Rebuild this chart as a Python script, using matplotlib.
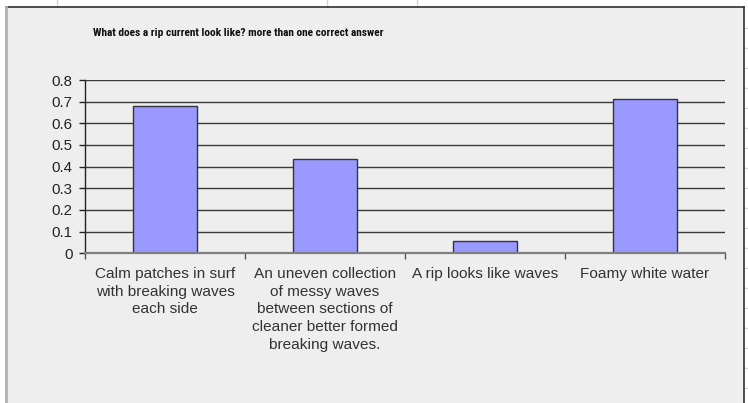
import matplotlib
matplotlib.use("Agg")
import matplotlib.pyplot as plt
from matplotlib.patches import Rectangle
from matplotlib.lines import Line2D

categories = [
    "Calm patches in surf\nwith breaking waves\neach side",
    "An uneven collection\nof messy waves\nbetween sections of\ncleaner better formed\nbreaking waves.",
    "A rip looks like waves",
    "Foamy white water",
]
values = [0.68, 0.435, 0.055, 0.71]
y_ticks = [0, 0.1, 0.2, 0.3, 0.4, 0.5, 0.6, 0.7, 0.8]
y_tick_labels = ["0", "0.1", "0.2", "0.3", "0.4", "0.5", "0.6", "0.7", "0.8"]
title = "What does a rip current look like? more than one correct answer"

W, H = 748, 403
fig = plt.figure(figsize=(W / 100, H / 100), dpi=100, facecolor="white")

def fx(px):
    return px / W

def fy(py):
    return 1 - py / H

# worksheet cell lines around the chart object
for x in (57, 327, 417):
    fig.add_artist(Line2D([fx(x), fx(x)], [fy(0), fy(7)], color="#d4d4d4", lw=1))
for y in range(28, 403, 20):
    fig.add_artist(Line2D([fx(745), fx(748)], [fy(y), fy(y)], color="#d4d4d4", lw=1))

# chart area
fig.add_artist(Rectangle((fx(6), fy(403)), fx(744) - fx(6), fy(7) - fy(403),
                         facecolor="#eeeeee", edgecolor="none", zorder=0))
fig.add_artist(Line2D([fx(6), fx(744)], [fy(7), fy(7)], color="#303030", lw=1.2))
fig.add_artist(Line2D([fx(744), fx(744)], [fy(7), fy(403)], color="#303030", lw=1.2))
fig.add_artist(Line2D([fx(6), fx(6)], [fy(7), fy(403)], color="#b0b0b0", lw=2))

fig.text(fx(93), fy(33), title, fontsize=8.2, fontweight="bold",
         family=["Roboto Condensed", "DejaVu Sans"], fontstretch="condensed",
         color="#111111", va="center", ha="left")

ax = fig.add_axes([fx(85), fy(253.3), fx(725) - fx(85), fy(80) - fy(253.3)])
ax.set_facecolor("none")

x = list(range(len(values)))
ax.set_xlim(-0.5, len(values) - 0.5)
ax.set_ylim(0, 0.8)

for t in y_ticks[1:]:
    ax.axhline(t, color="#3a3a3a", lw=1.0, zorder=1)

ax.bar(x, values, width=0.405, color="#9999ff", edgecolor="#333344",
       linewidth=1.0, zorder=3)

ax.set_yticks(y_ticks)
ax.set_yticklabels(y_tick_labels, family="Liberation Sans", fontsize=10.8, color="#222222")
ax.tick_params(axis="y", direction="out", length=4, width=1, color="#222222", pad=5)

ax.set_xticks(x)
ax.set_xticklabels(categories, family="Liberation Sans", fontsize=11.1,
                   color="#333333", linespacing=1.33, va="top")
ax.tick_params(axis="x", which="major", length=0, pad=10)
ax.set_xticks([i - 0.5 for i in range(len(values) + 1)], minor=True)
ax.tick_params(axis="x", which="minor", direction="out", length=4, width=1, color="#555555")

for s in ("top", "right"):
    ax.spines[s].set_visible(False)
ax.spines["left"].set_color("#222222")
ax.spines["left"].set_linewidth(1.0)
ax.spines["bottom"].set_color("#808080")
ax.spines["bottom"].set_linewidth(1.6)
ax.spines["bottom"].set_zorder(4)

fig.savefig("out.png", dpi=100, facecolor="white")
